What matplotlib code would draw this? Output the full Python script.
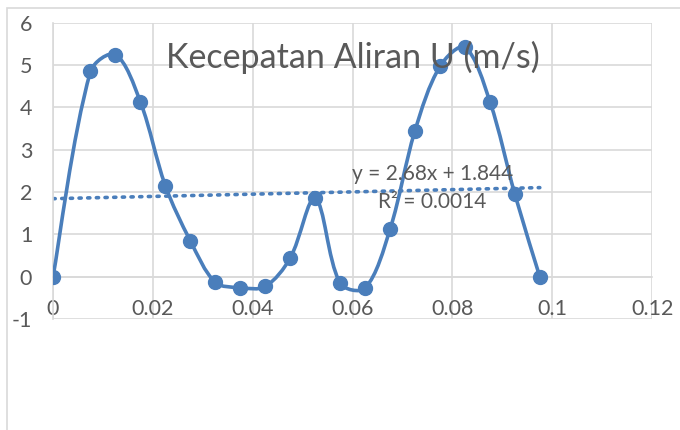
import numpy as np
import matplotlib.pyplot as plt
from matplotlib.path import Path
from matplotlib.patches import PathPatch, Rectangle

plt.rcParams['font.family'] = ['Lato', 'DejaVu Sans']
plt.rcParams['axes.unicode_minus'] = False

# ---------------------------------------------------------
# data
# ---------------------------------------------------------
pos_x = [0, 0.0075, 0.0125, 0.0175, 0.0225, 0.0275, 0.0325, 0.0375, 0.0425, 0.0475,
         0.0525, 0.0575, 0.0625, 0.0675, 0.0725, 0.0775, 0.0825, 0.0875, 0.0925, 0.0975]
speed_u = [0, 4.85, 5.25, 4.13, 2.15, 0.85, -0.13, -0.26, -0.23, 0.44,
           1.85, -0.15, -0.27, 1.12, 3.45, 4.97, 5.42, 4.14, 1.95, 0]

trend_slope = 2.68
trend_icept = 1.844
trend_r2 = 0.0014

x_ticks = [0, 0.02, 0.04, 0.06, 0.08, 0.1, 0.12]
x_labels = ['0', '0.02', '0.04', '0.06', '0.08', '0.1', '0.12']
y_ticks = [-1, 0, 1, 2, 3, 4, 5, 6]

blue = '#4a7ebb'
grey_txt = '#595959'
grid_col = '#d9d9d9'


def smooth_path(ax, xs, ys, k=1 / 3):
    # cubic bezier through every point, tangents weighted by chord length in pixels
    pts = ax.transData.transform(np.column_stack([xs, ys]))
    n = len(pts)
    chord = np.hypot(*np.diff(pts, axis=0).T)
    verts = [pts[0]]
    codes = [Path.MOVETO]
    for i in range(n - 1):
        a = max(i - 1, 0)
        b = min(i + 2, n - 1)
        d_prev = chord[i - 1] if i > 0 else chord[i]
        d_next = chord[i + 1] if i + 1 < n - 1 else chord[i]
        c1 = pts[i] + (pts[i + 1] - pts[a]) * k * chord[i] / (d_prev + chord[i])
        c2 = pts[i + 1] - (pts[b] - pts[i]) * k * chord[i] / (chord[i] + d_next)
        verts += [c1, c2, pts[i + 1]]
        codes += [Path.CURVE4] * 3
    verts = ax.transData.inverted().transform(np.array(verts))
    return Path(verts, codes)


fig = plt.figure(figsize=(6.8, 4.3), dpi=100)
ax = fig.add_axes([0.078, 0.258, 0.881, 0.689])

# outer chart frame
fig.patches.append(Rectangle((0.0103, -0.05), 1.2, 1.0314, transform=fig.transFigure,
                             fill=False, edgecolor=grid_col, linewidth=1.2))

ax.set_xlim(0, 0.12)
ax.set_ylim(-1, 6)
ax.set_xticks(x_ticks)
ax.set_xticklabels(x_labels)
ax.set_yticks(y_ticks)
ax.grid(True, color=grid_col, linewidth=1.2)
ax.set_axisbelow(True)
for side in ['top', 'right']:
    ax.spines[side].set_visible(False)
ax.spines['left'].set_color(grid_col)
ax.spines['left'].set_linewidth(1.2)
ax.spines['bottom'].set_position(('data', 0))
ax.spines['bottom'].set_color(grid_col)
ax.spines['bottom'].set_linewidth(1.2)
ax.tick_params(length=0, labelsize=15.5, colors=grey_txt)
ax.tick_params(axis='x', pad=16)
ax.tick_params(axis='y', pad=15)

# smoothed series line + markers
ax.add_patch(PathPatch(smooth_path(ax, pos_x, speed_u), fill=False, edgecolor=blue,
                       linewidth=2.6, zorder=3, capstyle='round', joinstyle='round'))
ax.plot(pos_x, speed_u, 'o', color=blue, markersize=10, zorder=4)

# linear trendline
tx = np.array([min(pos_x), max(pos_x)])
ax.plot(tx, trend_slope * tx + trend_icept, linestyle=(0, (0.6, 1.8)), color=blue,
        linewidth=2.6, dash_capstyle='round', zorder=2)

ax.text(0.076, 2.43, f'y = {trend_slope}x + {trend_icept}', fontsize=15,
        color=grey_txt, ha='center', va='center', zorder=5)
ax.text(0.076, 1.77, f'R² = {trend_r2}', fontsize=15,
        color=grey_txt, ha='center', va='center', zorder=5)

ax.set_title('Kecepatan Aliran U (m/s)', fontsize=24.5, color=grey_txt, y=0.82, zorder=5)

fig.savefig('out.png', dpi=100)
